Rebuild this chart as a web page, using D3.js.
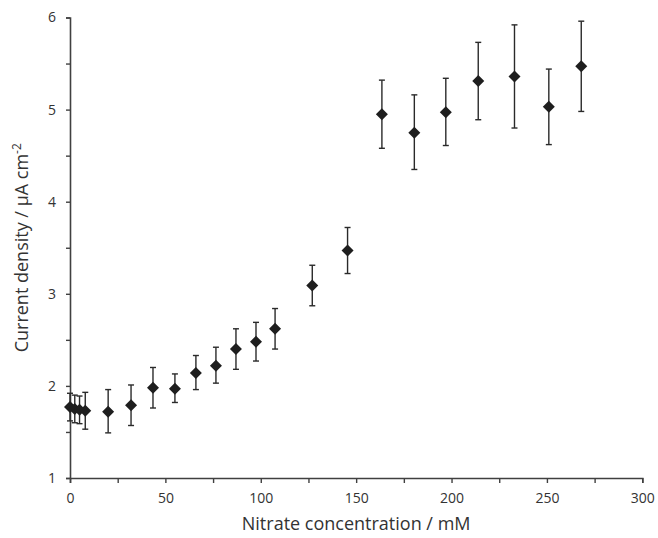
<!DOCTYPE html>
<html>
<head>
<meta charset="utf-8">
<script src="https://cdn.jsdelivr.net/npm/d3@7"></script>
<style>
  body { margin: 0; background: #fff; }
  svg { display: block; }
  text { font-family: "Open Sans", sans-serif; fill: #333; }
</style>
</head>
<body>
<svg id="chart" width="658" height="538"></svg>
<script>
// Data
const concentration = [0, 2.5, 5, 8, 20, 32, 43.5, 55, 66, 76.5, 87, 97.5, 107.5, 127, 145.5, 163.5, 180.5, 197, 214, 233, 251, 268];
const currentDensity = [1.77, 1.75, 1.74, 1.73, 1.72, 1.79, 1.98, 1.97, 2.14, 2.22, 2.40, 2.48, 2.62, 3.09, 3.47, 4.95, 4.75, 4.97, 5.31, 5.36, 5.03, 5.47];
const errUpper = [1.92, 1.90, 1.89, 1.93, 1.96, 2.01, 2.20, 2.13, 2.33, 2.42, 2.62, 2.69, 2.84, 3.31, 3.72, 5.32, 5.16, 5.34, 5.73, 5.92, 5.44, 5.96];
const errLower = [1.62, 1.60, 1.59, 1.53, 1.49, 1.57, 1.76, 1.82, 1.96, 2.03, 2.18, 2.27, 2.40, 2.87, 3.22, 4.58, 4.35, 4.61, 4.89, 4.80, 4.62, 4.98];
const xTicks = [0, 50, 100, 150, 200, 250, 300];
const xMinorTicks = [25, 75, 125, 175, 225, 275];
const yTicks = [1, 2, 3, 4, 5, 6];
const yMinorTicks = [1.5, 2.5, 3.5, 4.5, 5.5];

const svg = d3.select("#chart");
const x = d3.scaleLinear().domain([0, 300]).range([70, 642.3]);
const y = d3.scaleLinear().domain([1, 6]).range([478, 17.5]);
const axisColor = "#404040";

// X axis
const gx = svg.append("g").attr("transform", `translate(0,${y(1)})`);
gx.call(d3.axisBottom(x).tickValues(xTicks).tickSize(5).tickPadding(10).tickFormat(d3.format("d")));
gx.append("g").call(d3.axisBottom(x).tickValues(xMinorTicks).tickSize(5).tickFormat(""))
  .select(".domain").remove();
gx.selectAll(".domain").attr("stroke", axisColor).attr("stroke-width", 1.6);
gx.selectAll(".tick line").attr("stroke", axisColor).attr("stroke-width", 1.4);
gx.selectAll(".tick text").style("font-size", "14px").attr("fill", "#333").style("font-family", "Open Sans");

// Y axis
const gy = svg.append("g").attr("transform", `translate(${x(0)},0)`);
gy.call(d3.axisLeft(y).tickValues(yTicks).tickSize(4).tickPadding(10).tickFormat(d3.format("d")));
gy.append("g").call(d3.axisLeft(y).tickValues(yMinorTicks).tickSize(4).tickFormat(""))
  .select(".domain").remove();
gy.selectAll(".domain").attr("stroke", axisColor).attr("stroke-width", 1.6);
gy.selectAll(".tick line").attr("stroke", axisColor).attr("stroke-width", 1.4);
gy.selectAll(".tick text").style("font-size", "14px").attr("fill", "#333").style("font-family", "Open Sans");

// Error bars
const eb = svg.append("g").attr("stroke", "#2a2a2a").attr("stroke-width", 1.4);
const idx = d3.range(concentration.length);
eb.selectAll("line.v").data(idx).join("line").attr("class", "v")
  .attr("x1", i => x(concentration[i])).attr("x2", i => x(concentration[i]))
  .attr("y1", i => y(errUpper[i])).attr("y2", i => y(errLower[i]));
eb.selectAll("line.t").data(idx).join("line").attr("class", "t")
  .attr("x1", i => x(concentration[i]) - 3).attr("x2", i => x(concentration[i]) + 3)
  .attr("y1", i => y(errUpper[i])).attr("y2", i => y(errUpper[i]));
eb.selectAll("line.b").data(idx).join("line").attr("class", "b")
  .attr("x1", i => x(concentration[i]) - 3).attr("x2", i => x(concentration[i]) + 3)
  .attr("y1", i => y(errLower[i])).attr("y2", i => y(errLower[i]));

// Diamonds
const r = 6;
svg.append("g").selectAll("path").data(idx).join("path")
  .attr("d", `M0,${-r}L${r},0L0,${r}L${-r},0Z`)
  .attr("transform", i => `translate(${x(concentration[i])},${y(currentDensity[i])})`)
  .attr("fill", "#1e1e1e");

// Axis titles
svg.append("text")
  .attr("x", (x(0) + x(300)) / 2).attr("y", 530)
  .attr("text-anchor", "middle")
  .style("font-size", "18px")
  .text("Nitrate concentration / mM");

const yt = svg.append("text")
  .attr("transform", `translate(28,${(y(1) + y(6)) / 2}) rotate(-90)`)
  .attr("text-anchor", "middle")
  .style("font-size", "18px");
yt.append("tspan").text("Current density / μA cm");
yt.append("tspan").attr("dy", -7).style("font-size", "12px").text("-2");
</script>
</body>
</html>
